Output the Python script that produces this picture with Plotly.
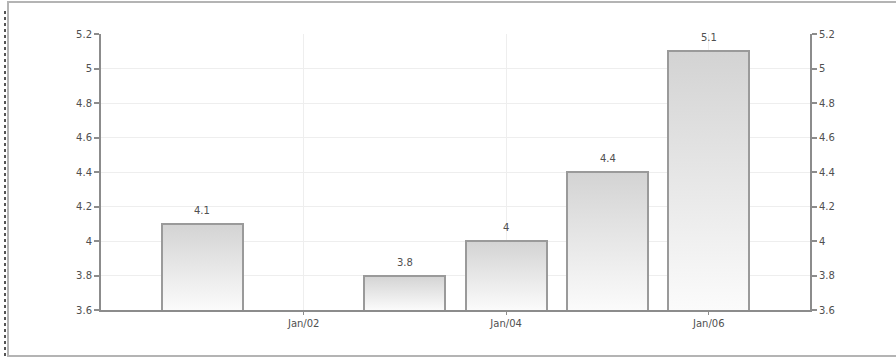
import pandas as pd
import plotly.graph_objects as go

# Annual values (2002 has no reading)
years = ["2001-01-01", "2003-01-01", "2004-01-01", "2005-01-01", "2006-01-01"]
values = [4.1, 3.8, 4.0, 4.4, 5.1]
value_labels = ["4.1", "3.8", "4", "4.4", "5.1"]

tick_dates = ["2002-01-01", "2004-01-01", "2006-01-01"]
tick_labels = ["Jan/02", "Jan/04", "Jan/06"]

y_min, y_max = 3.6, 5.2
x_range = ["2000-01-01", "2007-01-01"]

W, H = 896, 362
L, R, T, B = 101, 86, 34, 52
plot_w, plot_h = W - L - R, H - T - B

axis_col = "#8c8c8c"
grid_col = "#eeeeee"
text_col = "#505050"
font = dict(family="DejaVu Sans, Arial, sans-serif", size=10, color=text_col)

half_width = pd.Timedelta(days=146)

fig = go.Figure()

# Gradient fill of each bar (light at base, darker at top)
for d, v in zip(years, values):
    c = pd.Timestamp(d)
    x0, x1 = c - half_width, c + half_width
    fig.add_trace(go.Scatter(
        x=[x0, x0, x1, x1, x0],
        y=[y_min, v, v, y_min, y_min],
        mode="lines",
        fill="toself",
        line=dict(width=0),
        fillgradient=dict(type="vertical",
                          colorscale=[[0, "#fbfbfb"], [1, "#d3d3d3"]]),
        hoverinfo="skip",
        showlegend=False,
    ))

# Bars: outlines
fig.add_trace(go.Bar(
    x=years,
    y=values,
    width=2 * half_width.total_seconds() * 1000,
    marker=dict(color="rgba(0,0,0,0)", line=dict(color="#9a9a9a", width=2)),
    yaxis="y2",
    showlegend=False,
))

# Value labels above each bar
for d, v, lab in zip(years, values, value_labels):
    fig.add_annotation(x=d, y=v, yref="y2", text=lab, showarrow=False,
                       yanchor="bottom", yshift=6, font=font)

axis_common = dict(
    range=[y_min, y_max],
    dtick=0.2,
    tick0=y_min,
    showline=True,
    linecolor=axis_col,
    linewidth=2,
    ticks="outside",
    ticklen=5,
    tickwidth=1.5,
    tickcolor=axis_col,
    tickfont=font,
    zeroline=False,
)

fig.update_layout(
    width=W,
    height=H,
    margin=dict(l=L, r=R, t=T, b=B),
    paper_bgcolor="white",
    plot_bgcolor="white",
    bargap=0,
    xaxis=dict(
        type="date",
        range=x_range,
        tickvals=tick_dates,
        ticktext=tick_labels,
        showline=True,
        linecolor=axis_col,
        linewidth=2,
        ticks="outside",
        ticklen=3,
        tickcolor=axis_col,
        tickfont=font,
        showgrid=True,
        gridcolor=grid_col,
        gridwidth=1,
        zeroline=False,
    ),
    yaxis=dict(side="left", showgrid=True, gridcolor=grid_col, **axis_common),
    yaxis2=dict(side="right", overlaying="y", showgrid=False, **axis_common),
)

# Frame around the chart area (top, bottom and left edges)
def px_x(px):
    return (px - L) / plot_w

def px_y(py):
    return (H - B - py) / plot_h

frame = dict(color="#b4b4b4", width=2)
fig.add_shape(type="line", xref="paper", yref="paper",
              x0=px_x(7), x1=px_x(W), y0=px_y(2), y1=px_y(2), line=frame)
fig.add_shape(type="line", xref="paper", yref="paper",
              x0=px_x(7), x1=px_x(W), y0=px_y(356), y1=px_y(356), line=frame)
fig.add_shape(type="line", xref="paper", yref="paper",
              x0=px_x(8), x1=px_x(8), y0=px_y(356), y1=px_y(2), line=frame)
fig.add_shape(type="line", xref="paper", yref="paper",
              x0=px_x(5), x1=px_x(5), y0=px_y(356), y1=px_y(10),
              line=dict(color="#555555", width=2, dash="dot"))

fig.write_html("out.html")
